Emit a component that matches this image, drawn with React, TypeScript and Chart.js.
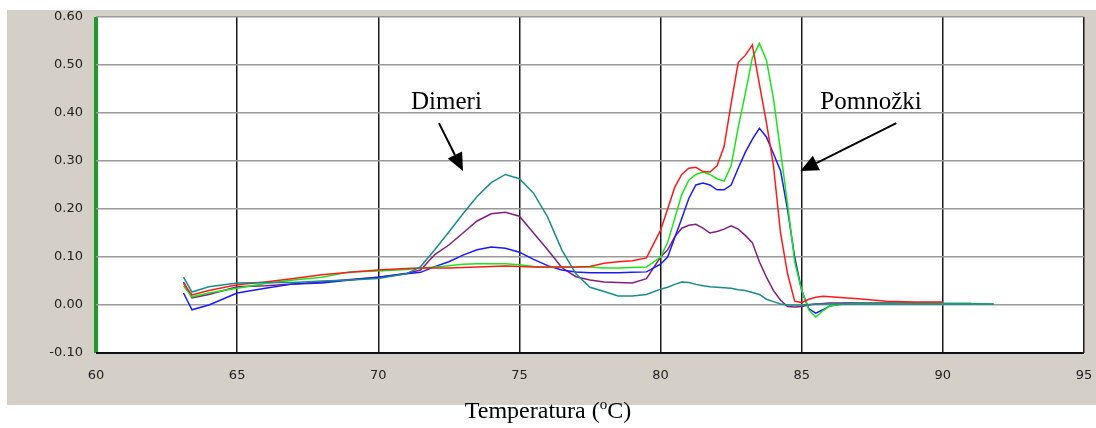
import { useEffect, useRef } from "react";
import { Chart, registerables } from "chart.js";

Chart.register(...registerables);

// Temperature grid (°C)
const temperatures = [
  63.1, 63.4, 64, 65, 66, 67, 68, 69, 70, 71,
  71.5, 72, 72.5, 73, 73.5, 74, 74.5, 75, 75.5, 76,
  76.5, 77, 77.5, 78, 78.5, 79, 79.5, 80, 80.25, 80.5,
  80.75, 81, 81.25, 81.5, 81.75, 82, 82.25, 82.5, 82.75, 83,
  83.25, 83.5, 83.75, 84, 84.25, 84.5, 84.75, 85, 85.25, 85.5,
  85.75, 86, 86.5, 87, 88, 89, 90, 91, 91.8,
];

const redValues = [
  0.045, 0.021, 0.03, 0.042, 0.048, 0.055, 0.063, 0.068, 0.073, 0.076,
  0.077, 0.077, 0.077, 0.078, 0.079, 0.08, 0.081, 0.08, 0.079, 0.079,
  0.079, 0.079, 0.08, 0.087, 0.09, 0.092, 0.098, 0.156, 0.2, 0.245,
  0.272, 0.285, 0.287, 0.278, 0.277, 0.29, 0.33, 0.42, 0.505, 0.52,
  0.542, 0.46, 0.38, 0.29, 0.15, 0.065, 0.008, 0.005, 0.012, 0.016,
  0.018, 0.017, 0.015, 0.013, 0.008, 0.006, 0.006, null, null,
];

const greenValues = [
  0.04, 0.017, 0.025, 0.035, 0.045, 0.052, 0.058, 0.069, 0.071, 0.074,
  0.077, 0.079, 0.082, 0.085, 0.086, 0.086, 0.086, 0.084, 0.08, 0.078,
  0.079, 0.079, 0.079, 0.077, 0.077, 0.078, 0.079, 0.1, 0.13, 0.18,
  0.23, 0.26, 0.272, 0.277, 0.272, 0.263, 0.258, 0.29, 0.37, 0.44,
  0.515, 0.545, 0.51, 0.43, 0.32, 0.21, 0.09, 0.03, -0.01, -0.025,
  -0.012, -0.002, 0.002, 0.003, 0.003, 0.003, 0.003, 0.003, 0.002,
];

const blueValues = [
  0.025, -0.01, 0.0, 0.025, 0.035, 0.044, 0.046, 0.052, 0.058, 0.065,
  0.068, 0.08, 0.09, 0.104, 0.115, 0.121, 0.118, 0.11, 0.095, 0.082,
  0.073, 0.069, 0.067, 0.067, 0.067, 0.068, 0.069, 0.085, 0.1, 0.14,
  0.18, 0.222, 0.25, 0.254, 0.25, 0.24, 0.24, 0.25, 0.285, 0.318,
  0.345, 0.368, 0.35, 0.315, 0.28, 0.198, 0.1, 0.03, -0.008, -0.017,
  -0.01, -0.002, 0.003, 0.003, 0.003, 0.003, 0.003, 0.003, null,
];

const purpleValues = [
  0.048, 0.015, 0.022, 0.038, 0.04, 0.044, 0.048, 0.053, 0.058, 0.066,
  0.073, 0.105, 0.125, 0.15, 0.175, 0.19, 0.193, 0.185, 0.15, 0.115,
  0.078, 0.059, 0.052, 0.048, 0.047, 0.046, 0.055, 0.1, 0.115, 0.142,
  0.16, 0.166, 0.168, 0.16, 0.15, 0.153, 0.158, 0.165, 0.158, 0.145,
  0.13, 0.09, 0.058, 0.03, 0.01, -0.003, -0.004, -0.003, 0.0, 0.002,
  0.003, 0.004, 0.004, 0.004, 0.004, 0.004, 0.004, null, null,
];

const tealValues = [
  0.058, 0.027, 0.038, 0.046, 0.047, 0.047, 0.05, 0.052, 0.055, 0.065,
  0.08, 0.115, 0.152, 0.19, 0.226, 0.255, 0.272, 0.263, 0.233, 0.183,
  0.115, 0.065, 0.037, 0.028, 0.019, 0.019, 0.022, 0.033, 0.037, 0.043,
  0.048, 0.047, 0.043, 0.04, 0.038, 0.037, 0.036, 0.035, 0.032, 0.03,
  0.026, 0.022, 0.012, 0.007, 0.002, 0.0, 0.0, 0.0, 0.001, 0.002,
  0.002, 0.002, 0.002, 0.002, 0.002, 0.002, 0.002, 0.002, 0.002,
];

const xTickMin = 60;
const xTickMax = 95;
const xTickStep = 5;
const yTickMin = -0.1;
const yTickMax = 0.6;
const yTickStep = 0.1;

const axisTitleMain = "Temperatura (";
const axisTitleSup = "o";
const axisTitleEnd = "C)";

// Annotation labels (anchored in data coordinates: temperature, value)
const annotationLabels = ["Dimeri", "Pomnožki"];
const annotationLabelT = [71.16, 85.66];
const annotationLabelV = [0.408, 0.408];
const arrowFromT = [72.15, 88.35];
const arrowFromV = [0.379, 0.379];
const arrowToT = [73.0, 84.95];
const arrowToV = [0.279, 0.279];

const toPoints = (vals: (number | null)[]) =>
  temperatures.map((t, i) => ({ x: t, y: vals[i] }));

const near = (a: number, b: number) => Math.abs(a - b) < 1e-6;

const framePlugin = {
  id: "frame",
  beforeDraw(chart: any) {
    const { ctx, chartArea } = chart;
    ctx.save();
    ctx.fillStyle = "#ffffff";
    ctx.fillRect(0, 0, chart.width, chart.height);
    ctx.fillStyle = "#d4d0c8";
    ctx.fillRect(7, 10, chart.width - 7, 395);
    ctx.fillStyle = "#ffffff";
    ctx.fillRect(
      chartArea.left,
      chartArea.top,
      chartArea.right - chartArea.left,
      chartArea.bottom - chartArea.top
    );
    ctx.restore();
  },
  afterDraw(chart: any) {
    const { ctx } = chart;
    const xs = chart.scales.x;
    const ys = chart.scales.y;
    ctx.save();
    // annotation labels
    ctx.fillStyle = "#000";
    ctx.font = '25px "Liberation Serif", "Times New Roman", serif';
    ctx.textAlign = "left";
    ctx.textBaseline = "alphabetic";
    annotationLabels.forEach((lbl, i) => {
      ctx.fillText(
        lbl,
        xs.getPixelForValue(annotationLabelT[i]),
        ys.getPixelForValue(annotationLabelV[i])
      );
    });
    // arrows
    ctx.strokeStyle = "#000";
    ctx.lineWidth = 2;
    arrowFromT.forEach((_, i) => {
      const x1 = xs.getPixelForValue(arrowFromT[i]);
      const y1 = ys.getPixelForValue(arrowFromV[i]);
      const x2 = xs.getPixelForValue(arrowToT[i]);
      const y2 = ys.getPixelForValue(arrowToV[i]);
      const ang = Math.atan2(y2 - y1, x2 - x1);
      const headLen = 18;
      const headHalf = 8;
      const bx = x2 - headLen * Math.cos(ang);
      const by = y2 - headLen * Math.sin(ang);
      ctx.beginPath();
      ctx.moveTo(x1, y1);
      ctx.lineTo(bx, by);
      ctx.stroke();
      ctx.beginPath();
      ctx.moveTo(x2, y2);
      ctx.lineTo(bx + headHalf * Math.sin(ang), by - headHalf * Math.cos(ang));
      ctx.lineTo(bx - headHalf * Math.sin(ang), by + headHalf * Math.cos(ang));
      ctx.closePath();
      ctx.fillStyle = "#000";
      ctx.fill();
    });
    // axis title with superscript
    const mainFont = '24px "Liberation Serif", "Times New Roman", serif';
    const supFont = '15px "Liberation Serif", "Times New Roman", serif';
    ctx.font = mainFont;
    const w1 = ctx.measureText(axisTitleMain).width;
    const w3 = ctx.measureText(axisTitleEnd).width;
    ctx.font = supFont;
    const w2 = ctx.measureText(axisTitleSup).width;
    const total = w1 + w2 + w3;
    const cx = 548;
    const baseY = 418;
    let x = cx - total / 2;
    ctx.textAlign = "left";
    ctx.fillStyle = "#000";
    ctx.font = mainFont;
    ctx.fillText(axisTitleMain, x, baseY);
    x += w1;
    ctx.font = supFont;
    ctx.fillText(axisTitleSup, x, baseY - 9);
    x += w2;
    ctx.font = mainFont;
    ctx.fillText(axisTitleEnd, x, baseY);
    ctx.restore();
  },
};

export default function App() {
  const canvasRef = useRef<HTMLCanvasElement | null>(null);

  useEffect(() => {
    if (!canvasRef.current) return;
    const lineDs = (label: string, vals: (number | null)[], color: string) => ({
      label,
      data: toPoints(vals),
      borderColor: color,
      backgroundColor: color,
      borderWidth: 1.5,
      pointRadius: 0,
      tension: 0,
      fill: false,
      spanGaps: false,
    });
    const chart = new Chart(canvasRef.current, {
      type: "line",
      data: {
        datasets: [
          lineDs("teal", tealValues, "#1a8c8c"),
          lineDs("red", redValues, "#ff1a1a"),
          lineDs("green", greenValues, "#19e619"),
          lineDs("blue", blueValues, "#1a1aff"),
          lineDs("purple", purpleValues, "#801f80"),
        ],
      },
      options: {
        animation: false,
        responsive: false,
        devicePixelRatio: 1,
        parsing: true,
        layout: { padding: { left: 0, top: 17, right: 12, bottom: 0 } },
        plugins: {
          legend: { display: false },
          tooltip: { enabled: false },
        },
        scales: {
          x: {
            type: "linear",
            min: xTickMin,
            max: xTickMax,
            afterFit: (s: any) => {
              s.height = 75;
              s.paddingLeft = 0;
              s.paddingRight = 0;
              s.paddingTop = 0;
              s.paddingBottom = 0;
            },
            border: { display: false },
            grid: {
              drawTicks: false,
              color: (c: any) =>
                near(c.tick.value, xTickMin) ? "#1e9a28" : "#1a1a1a",
              lineWidth: (c: any) => (near(c.tick.value, xTickMin) ? 4 : 1.5),
            },
            ticks: {
              stepSize: xTickStep,
              padding: 15,
              color: "#222",
              font: { family: '"DejaVu Sans", sans-serif', size: 13 },
              maxRotation: 0,
              autoSkip: false,
            },
          },
          y: {
            type: "linear",
            min: yTickMin,
            max: yTickMax,
            afterFit: (s: any) => {
              s.width = 96;
              s.paddingLeft = 0;
              s.paddingRight = 0;
              s.paddingTop = 0;
              s.paddingBottom = 0;
            },
            border: { display: false },
            grid: {
              drawTicks: false,
              color: (c: any) => (near(c.tick.value, yTickMin) ? "#111" : "#9a9a9a"),
              lineWidth: (c: any) => (near(c.tick.value, yTickMin) ? 2 : 1.5),
            },
            ticks: {
              stepSize: yTickStep,
              padding: 13,
              color: "#222",
              font: { family: '"DejaVu Sans", sans-serif', size: 13 },
              callback: (v: any) => {
                const n = Number(v);
                return (Math.abs(n) < 1e-9 ? 0 : n).toFixed(2);
              },
            },
          },
        },
      },
      plugins: [framePlugin],
    } as any);
    return () => chart.destroy();
  }, []);

  return (
    <div style={{ position: "fixed", left: 0, top: 0, width: 1096, height: 428 }}>
      <canvas ref={canvasRef} width={1096} height={428} />
    </div>
  );
}
